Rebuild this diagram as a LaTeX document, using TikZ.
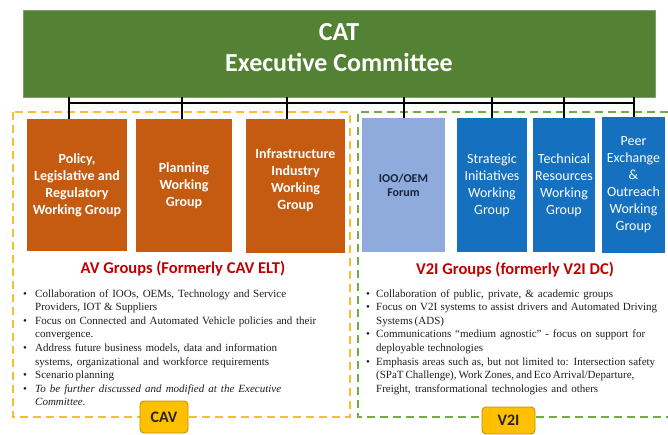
\documentclass[tikz,border=0pt]{standalone}
\usepackage{fontspec}
\setmainfont{Carlito}
\newfontfamily\bodyfont{Liberation Serif}
\definecolor{execgreen}{RGB}{84,130,53}
\definecolor{avorange}{RGB}{197,90,17}
\definecolor{ioblue}{RGB}{143,170,220}
\definecolor{wgblue}{RGB}{22,112,192}
\definecolor{titlered}{RGB}{192,0,0}
\definecolor{dashyellow}{RGB}{242,192,50}
\definecolor{dashgreen}{RGB}{112,173,71}
\definecolor{tagfill}{RGB}{255,192,0}
\definecolor{tagline}{RGB}{190,145,0}
\definecolor{bodygray}{RGB}{30,30,30}
\definecolor{navytext}{RGB}{25,35,60}
\newcommand\jbox[2]{\makebox[#1pt][s]{#2}}
\tikzset{
  execbox/.style={fill=execgreen, draw=execgreen!75!white, line width=0.8pt, inner sep=0pt},
  exectext/.style={text=white, align=center, inner sep=0pt, font=\bfseries\fontsize{26}{31}\selectfont},
  wgbox/.style={inner sep=0pt, align=center},
  avbox/.style={wgbox, fill=avorange, text=white, font=\bfseries\fontsize{14}{17}\selectfont},
  ioobox/.style={wgbox, fill=ioblue, text=navytext, font=\bfseries\fontsize{12}{14}\selectfont},
  v2ibox/.style={wgbox, fill=wgblue, text=white, font=\fontsize{14}{17}\selectfont},
  grouptitle/.style={text=titlered, inner sep=0pt, font=\bfseries\fontsize{16.5}{20}\selectfont},
  bus/.style={line width=2pt, black},
  yellowdash/.style={draw=dashyellow, line width=2.2pt, dash pattern=on 8pt off 5pt},
  greendash/.style={draw=dashgreen, line width=2.2pt, dash pattern=on 8pt off 5pt},
  tag/.style={fill=tagfill, draw=tagline, line width=0.9pt, rounded corners=4pt, inner sep=0pt, text=black!85, font=\bfseries\fontsize{16}{19}\selectfont},
  bodytxt/.style={inner sep=0pt, anchor=base west, text=bodygray, font=\bodyfont\fontsize{11}{13.6}\selectfont},
  bullettxt/.style={inner sep=0pt, anchor=base, text=bodygray, font=\bodyfont\fontsize{11}{13.6}\selectfont}
}
\begin{document}
\begin{tikzpicture}[x=1pt,y=-1pt]
\useasboundingbox (0,0) rectangle (668,434);

% dashed group frames
\draw[yellowdash] (13,112) rectangle (350,417);
\draw[greendash] (668,112) -- (358,112) -- (358,417) -- (668,417);

% executive committee
\node[execbox, minimum width=632pt, minimum height=87pt] (exec) at (339,53.5) {};
\node[exectext] (exectitle) at (339,47.5) {CAT\\Executive Committee};

% working group boxes
\node[avbox, minimum width=100pt, minimum height=132pt] (b1) at (77,185) {Policy,\\Legislative and\\Regulatory\\Working Group};
\node[avbox, minimum width=96pt, minimum height=133pt] (b2) at (184,185.5) {Planning\\Working\\Group};
\node[avbox, minimum width=99pt, minimum height=134pt] (b3) at (295.5,186) {Infrastructure\\Industry\\Working\\Group\\[-3pt]\mbox{}};
\node[ioobox, minimum width=83pt, minimum height=134pt] (b4) at (403.5,185) {IOO/OEM\\Forum};
\node[v2ibox, minimum width=70pt, minimum height=134pt] (b5) at (492,185) {Strategic\\Initiatives\\Working\\Group};
\node[v2ibox, minimum width=62pt, minimum height=134pt] (b6) at (564,185) {Technical\\Resources\\Working\\Group};
\node[v2ibox, minimum width=63pt, minimum height=136pt] (b7) at (633.5,185) {Peer\\Exchange\\\&\\Outreach\\Working\\Group};

% connectors
\coordinate (t1) at ([xshift=-8pt]b1.north);
\coordinate (t2) at ([xshift=-2pt]b2.north);
\coordinate (t3) at ([xshift=-8.5pt]b3.north);
\coordinate (busL) at ([yshift=-6pt]exec.south -| t1);
\coordinate (busR) at ([yshift=-6pt]exec.south -| b7.north);
\draw[bus] (busL) -- (busR);
\draw[bus] (exec.south -| t1) -- (t1);
\draw[bus] (exec.south -| t2) -- (t2);
\draw[bus] (exec.south -| t3) -- (t3);
\draw[bus] (exec.south -| b4.north) -- (b4.north);
\draw[bus] (exec.south -| b5.north) -- (b5.north);
\draw[bus] (exec.south -| b6.north) -- (b6.north);
\draw[bus] (exec.south -| b7.north) -- (b7.north);

% group titles
\node[grouptitle] (avtitle) at (183,269) {AV Groups (Formerly CAV ELT)};
\node[grouptitle] (v2ititle) at (515,270) {V2I Groups (formerly V2I DC)};

% AV body text
\node[bullettxt] (ab1) at (25,297) {\textbullet};
\node[bodytxt] (al1) at (35,297) {\jbox{251}{Collaboration of IOOs, OEMs, Technology and Service}};
\node[bodytxt] (al2) at (35,310.6) {\jbox{122}{Providers, IOT \& Suppliers}};
\node[bullettxt] (ab2) at (25,324.2) {\textbullet};
\node[bodytxt] (al3) at (35,324.2) {\jbox{281}{Focus on Connected and Automated Vehicle policies and their}};
\node[bodytxt] (al4) at (35,337.8) {convergence.};
\node[bullettxt] (ab3) at (25,351.4) {\textbullet};
\node[bodytxt] (al5) at (35,351.4) {\jbox{242}{Address future business models, data and information}};
\node[bodytxt] (al6) at (35,365.0) {\jbox{234}{systems, organizational and workforce requirements}};
\node[bullettxt] (ab4) at (25,378.6) {\textbullet};
\node[bodytxt] (al7) at (35,378.6) {\jbox{79}{Scenario planning}};
\node[bullettxt] (ab5) at (25,392.2) {\textbullet};
\node[bodytxt] (al8) at (35,392.2) {\itshape\jbox{246}{To be further discussed and modified at the Executive}};
\node[bodytxt] (al9) at (35,405.8) {\itshape Committee.};

% V2I body text
\node[bullettxt] (vb1) at (368,297) {\textbullet};
\node[bodytxt] (vl1) at (376,297) {\jbox{237}{Collaboration of public, private, \& academic groups}};
\node[bullettxt] (vb2) at (368,310.6) {\textbullet};
\node[bodytxt] (vl2) at (376,310.6) {\jbox{281}{Focus on V2I systems to assist drivers and Automated Driving}};
\node[bodytxt] (vl3) at (376,324.2) {\jbox{43}{Systems (ADS)}};
\node[bullettxt] (vb3) at (368,337.8) {\textbullet};
\node[bodytxt] (vl4) at (376,337.8) {\jbox{269}{Communications “medium agnostic” - focus on support for}};
\node[bodytxt] (vl5) at (376,351.4) {\jbox{107}{deployable technologies}};
\node[bullettxt] (vb4) at (368,365.0) {\textbullet};
\node[bodytxt] (vl6) at (376,365.0) {\jbox{279}{Emphasis areas such as, but not limited to: Intersection safety}};
\node[bodytxt] (vl7) at (376,378.6) {\jbox{254}{(SPaT Challenge), Work Zones, and Eco Arrival/Departure,}};
\node[bodytxt] (vl8) at (376,392.2) {\jbox{222}{Freight, transformational technologies and others}};

% tags
\node[tag, minimum width=48pt, minimum height=32pt] (cavtag) at (164,417) {CAV};
\node[tag, minimum width=53pt, minimum height=27pt] (v2itag) at (508.5,420.5) {V2I};
\end{tikzpicture}
\end{document}
